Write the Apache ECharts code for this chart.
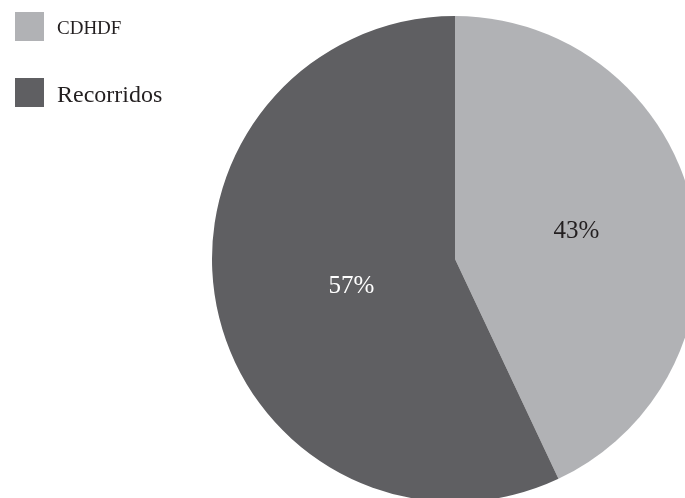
<!DOCTYPE html>
<html>
<head>
<meta charset="utf-8">
<script src="https://cdn.jsdelivr.net/npm/echarts@6/dist/echarts.min.js"></script>
<style>
  html, body { margin: 0; padding: 0; background: #fff; }
  #chart { width: 685px; height: 498px; }
</style>
</head>
<body>
<div id="chart"></div>
<script>
(function () {
    var categories = ['CDHDF', 'Recorridos'];
    var values = [43, 57];
    var colors = ['#b1b2b5', '#5f5f62'];
    var labelColors = ['#231f20', '#ffffff'];
    // nudge the inside labels to where the original puts them
    var labelPads = [[12, 0, 0, 0], [0, 0, 0, 36]];

    function initChart() {
        var chartDom = document.getElementById('chart');
        var myChart = echarts.init(chartDom);

        var data = categories.map(function (name, i) {
            return {
                name: name,
                value: values[i],
                itemStyle: { color: colors[i] },
                label: { color: labelColors[i], padding: labelPads[i] }
            };
        });

        var option = {
            animation: false,
            legend: {
                orient: 'vertical',
                left: 15,
                top: 12,
                padding: 0,
                itemWidth: 29,
                itemHeight: 29,
                itemGap: 37,
                icon: 'rect',
                data: categories,
                formatter: function (name) {
                    // the first entry is set in small caps in the original
                    return name === 'CDHDF' ? '{s|' + name + '}' : '{b|' + name + '}';
                },
                textStyle: {
                    color: '#231f20',
                    fontFamily: 'Liberation Serif',
                    padding: [6, 0, 0, 8],
                    rich: {
                        s: { fontSize: 19, fontFamily: 'Liberation Serif', color: '#231f20' },
                        b: { fontSize: 24, fontFamily: 'Liberation Serif', color: '#231f20' }
                    }
                }
            },
            series: [
                {
                    type: 'pie',
                    center: [455, 259],
                    radius: 243,
                    startAngle: 90,
                    clockwise: true,
                    data: data,
                    label: {
                        position: 'inside',
                        formatter: '{c}%',
                        fontFamily: 'Liberation Serif',
                        fontSize: 25
                    },
                    labelLine: { show: false },
                    emphasis: { disabled: true }
                }
            ]
        };

        option && myChart.setOption(option);
    }

    initChart();
})();
</script>
</body>
</html>
